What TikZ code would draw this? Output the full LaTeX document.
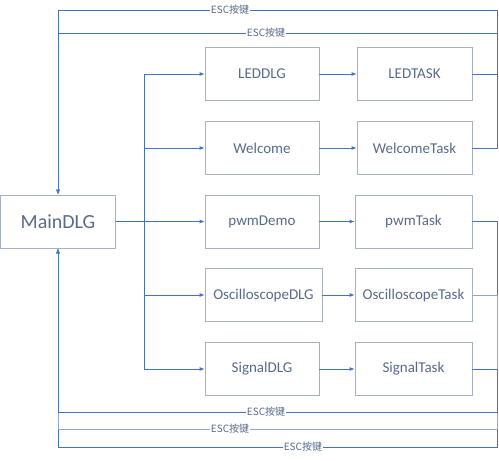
\documentclass[tikz,border=0pt]{standalone}
\usepackage{fontspec}
\setmainfont{Carlito}
\newfontfamily\cjk{Noto Sans CJK SC}
\usetikzlibrary{arrows.meta}
\definecolor{linkblue}{RGB}{68,114,196}
\definecolor{boxgray}{RGB}{165,178,198}
\definecolor{txtgray}{RGB}{88,106,138}
\tikzset{
  dlg/.style={draw=boxgray, line width=0.8pt, minimum height=53pt, text=txtgray, font=\fontsize{15}{17}\selectfont, inner sep=0pt},
  link/.style={draw=linkblue, line width=0.8pt, -{Latex[length=5pt,width=4pt]}},
  esc/.style={fill=white, text=txtgray, inner sep=1pt, font=\cjk\fontsize{10}{12}\selectfont}
}
\begin{document}
\begin{tikzpicture}[x=1pt,y=-1pt]
\useasboundingbox (0,0) rectangle (499,461);
% main dialog
\node (main) [dlg, minimum width=115pt, font=\fontsize{20}{22}\selectfont] at (58,221.5) {MainDLG};
% dialogs and tasks
\node (led)    [dlg, minimum width=114pt] at (262,74)    {LEDDLG};
\node (wel)    [dlg, minimum width=114pt] at (262,148)   {Welcome};
\node (pwm)    [dlg, minimum width=114pt] at (262,221.5) {pwmDemo};
\node (osc)    [dlg, minimum width=117pt] at (263.5,295) {OscilloscopeDLG};
\node (sig)    [dlg, minimum width=114pt] at (262,369)   {SignalDLG};
\node (ledtask) [dlg, minimum width=115pt] at (414.5,74)  {LEDTASK};
\node (weltask) [dlg, minimum width=115pt] at (414.5,148) {WelcomeTask};
\node (pwmtask) [dlg, minimum width=117pt] at (413.5,221.5) {pwmTask};
\node (osctask) [dlg, minimum width=117pt] at (413.5,295) {OscilloscopeTask};
\node (sigtask) [dlg, minimum width=117pt] at (413.5,369) {SignalTask};
% buses
\coordinate (bus) at (144,0);
\coordinate (rbus) at (497,0);
\coordinate (top1) at (0,10);
\coordinate (top2) at (0,33);
\coordinate (bot1) at (0,412);
\coordinate (bot2) at (0,429);
\coordinate (bot3) at (0,447);
\draw [link] (main.east) -- (pwm.west);
\foreach \d in {led,wel,osc,sig}
  \draw [link] (main.east -| bus) |- (\d.west);
\foreach \d/\t in {led/ledtask,wel/weltask,pwm/pwmtask,osc/osctask,sig/sigtask}
  \draw [link] (\d.east) -- (\t.west);
% ESC back to main
\draw [link] (weltask.east) -| (rbus |- top1) -- node [esc, pos=0.608] {ESC按键} (main.north |- top1) -- (main.north);
\draw [link] (ledtask.east) -| (rbus |- top2) -- node [esc, pos=0.526] {ESC按键} (main.north |- top2) -- (main.north);
\draw [link] (pwmtask.east) -| (rbus |- bot3) -- node [esc, pos=0.442] {ESC按键} (main.south |- bot3) -- (main.south);
\draw [link, draw=boxgray!80!linkblue] (osctask.east) -| (rbus |- bot2) -- node [esc, pos=0.608] {ESC按键} (main.south |- bot2) -- (main.south);
\draw [link] (sigtask.east) -| (rbus |- bot1) -- node [esc, pos=0.526] {ESC按键} (main.south |- bot1) -- (main.south);
\end{tikzpicture}
\end{document}
